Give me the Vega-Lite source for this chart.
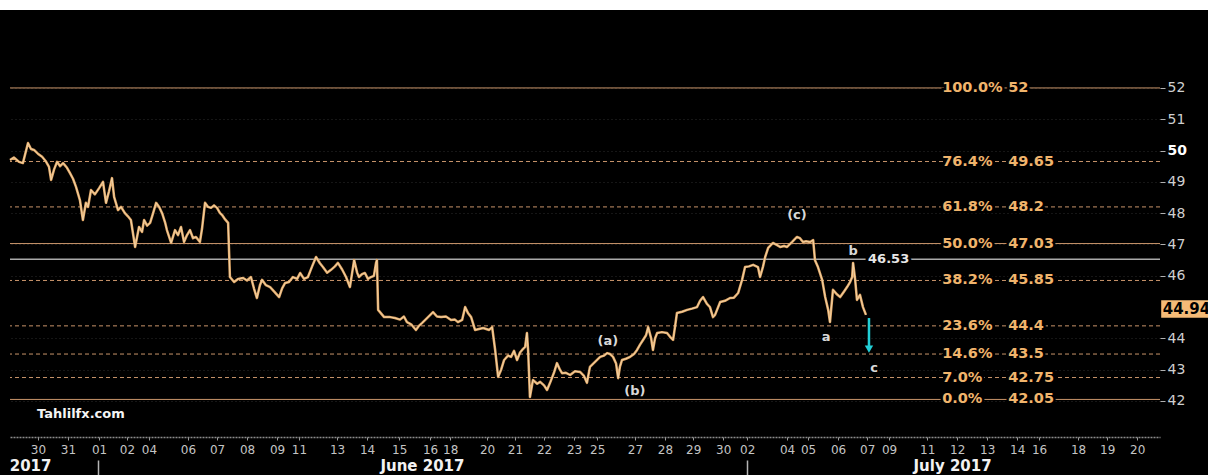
{
  "$schema": "https://vega.github.io/schema/vega-lite/v6.json",
  "width": 1150,
  "height": 427,
  "autosize": {"type": "none"},
  "padding": {"left": 10, "top": 10, "right": 48, "bottom": 38},
  "background": "#000000",
  "config": {"view": {"stroke": null}, "font": "DejaVu Sans"},
  "resolve": {"axis": {"x": "independent", "y": "independent"}},
  "datasets": {
    "price": [
      {"t":0.00,"v":49.70},{"t":0.13,"v":49.78},{"t":0.30,"v":49.64},{"t":0.43,"v":49.60},{"t":0.60,"v":50.24},{"t":0.70,"v":50.05},{"t":0.80,"v":50.02},{"t":0.93,"v":49.90},{"t":1.07,"v":49.80},{"t":1.20,"v":49.65},{"t":1.30,"v":49.48},{"t":1.37,"v":49.06},{"t":1.47,"v":49.40},{"t":1.57,"v":49.64},{"t":1.67,"v":49.50},{"t":1.77,"v":49.60},{"t":1.90,"v":49.45},{"t":2.00,"v":49.28},{"t":2.10,"v":49.10},{"t":2.20,"v":48.84},{"t":2.33,"v":48.42},{"t":2.43,"v":47.78},{"t":2.53,"v":48.33},{"t":2.60,"v":48.20},{"t":2.70,"v":48.74},{"t":2.83,"v":48.60},{"t":2.97,"v":48.80},{"t":3.10,"v":49.00},{"t":3.20,"v":48.33},{"t":3.30,"v":48.70},{"t":3.40,"v":49.12},{"t":3.47,"v":48.52},{"t":3.60,"v":48.10},{"t":3.70,"v":48.20},{"t":3.83,"v":48.00},{"t":3.93,"v":47.90},{"t":4.03,"v":47.78},{"t":4.17,"v":46.92},{"t":4.30,"v":47.56},{"t":4.40,"v":47.40},{"t":4.47,"v":47.78},{"t":4.57,"v":47.60},{"t":4.67,"v":47.69},{"t":4.77,"v":48.00},{"t":4.87,"v":48.33},{"t":4.97,"v":48.20},{"t":5.07,"v":48.00},{"t":5.17,"v":47.70},{"t":5.23,"v":47.46},{"t":5.37,"v":47.05},{"t":5.50,"v":47.46},{"t":5.60,"v":47.30},{"t":5.70,"v":47.56},{"t":5.80,"v":47.08},{"t":5.90,"v":47.30},{"t":6.00,"v":47.46},{"t":6.10,"v":47.20},{"t":6.20,"v":47.24},{"t":6.33,"v":47.08},{"t":6.40,"v":47.50},{"t":6.50,"v":48.33},{"t":6.60,"v":48.20},{"t":6.70,"v":48.17},{"t":6.80,"v":48.25},{"t":6.90,"v":48.17},{"t":7.00,"v":48.00},{"t":7.07,"v":47.94},{"t":7.17,"v":47.80},{"t":7.27,"v":47.69},{"t":7.33,"v":45.96},{"t":7.47,"v":45.80},{"t":7.60,"v":45.90},{"t":7.77,"v":45.93},{"t":7.90,"v":45.85},{"t":8.03,"v":45.96},{"t":8.13,"v":45.60},{"t":8.23,"v":45.29},{"t":8.33,"v":45.70},{"t":8.40,"v":45.87},{"t":8.53,"v":45.70},{"t":8.67,"v":45.64},{"t":8.80,"v":45.50},{"t":8.97,"v":45.32},{"t":9.07,"v":45.60},{"t":9.17,"v":45.77},{"t":9.30,"v":45.80},{"t":9.43,"v":45.96},{"t":9.57,"v":45.90},{"t":9.67,"v":46.09},{"t":9.80,"v":45.90},{"t":9.93,"v":45.96},{"t":10.07,"v":46.30},{"t":10.20,"v":46.60},{"t":10.33,"v":46.40},{"t":10.43,"v":46.28},{"t":10.57,"v":46.10},{"t":10.70,"v":46.19},{"t":10.83,"v":46.30},{"t":10.93,"v":46.41},{"t":11.07,"v":46.20},{"t":11.20,"v":45.96},{"t":11.33,"v":45.64},{"t":11.47,"v":46.50},{"t":11.57,"v":46.10},{"t":11.63,"v":45.96},{"t":11.73,"v":46.05},{"t":11.83,"v":46.09},{"t":11.93,"v":45.90},{"t":12.03,"v":45.96},{"t":12.13,"v":46.00},{"t":12.20,"v":46.41},{"t":12.23,"v":46.50},{"t":12.27,"v":44.91},{"t":12.47,"v":44.68},{"t":12.67,"v":44.68},{"t":12.83,"v":44.65},{"t":13.00,"v":44.60},{"t":13.13,"v":44.70},{"t":13.23,"v":44.52},{"t":13.37,"v":44.45},{"t":13.53,"v":44.27},{"t":13.63,"v":44.40},{"t":13.73,"v":44.49},{"t":13.90,"v":44.65},{"t":14.10,"v":44.84},{"t":14.23,"v":44.70},{"t":14.37,"v":44.68},{"t":14.53,"v":44.70},{"t":14.70,"v":44.59},{"t":14.83,"v":44.60},{"t":14.93,"v":44.52},{"t":15.07,"v":44.59},{"t":15.17,"v":45.00},{"t":15.27,"v":44.80},{"t":15.37,"v":44.68},{"t":15.50,"v":44.27},{"t":15.63,"v":44.30},{"t":15.77,"v":44.33},{"t":15.97,"v":44.27},{"t":16.07,"v":44.36},{"t":16.17,"v":43.63},{"t":16.27,"v":42.77},{"t":16.37,"v":43.00},{"t":16.47,"v":43.31},{"t":16.60,"v":43.45},{"t":16.70,"v":43.41},{"t":16.80,"v":43.60},{"t":16.90,"v":43.31},{"t":17.00,"v":43.55},{"t":17.07,"v":43.63},{"t":17.17,"v":43.73},{"t":17.23,"v":44.17},{"t":17.27,"v":43.60},{"t":17.33,"v":42.13},{"t":17.43,"v":42.67},{"t":17.57,"v":42.55},{"t":17.67,"v":42.61},{"t":17.80,"v":42.50},{"t":17.90,"v":42.35},{"t":18.00,"v":42.58},{"t":18.13,"v":42.90},{"t":18.23,"v":43.21},{"t":18.33,"v":43.00},{"t":18.40,"v":42.89},{"t":18.53,"v":42.90},{"t":18.67,"v":42.83},{"t":18.83,"v":42.95},{"t":19.00,"v":42.93},{"t":19.13,"v":42.80},{"t":19.23,"v":42.58},{"t":19.33,"v":43.09},{"t":19.50,"v":43.25},{"t":19.67,"v":43.41},{"t":19.80,"v":43.45},{"t":19.90,"v":43.53},{"t":20.00,"v":43.50},{"t":20.10,"v":43.41},{"t":20.20,"v":43.20},{"t":20.27,"v":42.73},{"t":20.33,"v":43.10},{"t":20.40,"v":43.31},{"t":20.53,"v":43.35},{"t":20.67,"v":43.41},{"t":20.80,"v":43.50},{"t":20.90,"v":43.63},{"t":21.00,"v":43.80},{"t":21.10,"v":43.95},{"t":21.20,"v":44.10},{"t":21.27,"v":44.36},{"t":21.37,"v":44.00},{"t":21.43,"v":43.63},{"t":21.50,"v":44.00},{"t":21.57,"v":44.17},{"t":21.73,"v":44.20},{"t":21.90,"v":44.17},{"t":22.00,"v":44.05},{"t":22.10,"v":43.95},{"t":22.17,"v":44.40},{"t":22.23,"v":44.81},{"t":22.40,"v":44.85},{"t":22.57,"v":44.91},{"t":22.73,"v":44.95},{"t":22.90,"v":45.00},{"t":23.00,"v":45.20},{"t":23.10,"v":45.32},{"t":23.23,"v":45.10},{"t":23.33,"v":45.00},{"t":23.43,"v":44.68},{"t":23.50,"v":44.75},{"t":23.67,"v":45.16},{"t":23.83,"v":45.20},{"t":24.00,"v":45.29},{"t":24.13,"v":45.30},{"t":24.27,"v":45.45},{"t":24.40,"v":45.87},{"t":24.50,"v":46.28},{"t":24.63,"v":46.30},{"t":24.77,"v":46.35},{"t":24.93,"v":46.28},{"t":25.00,"v":45.96},{"t":25.10,"v":46.30},{"t":25.17,"v":46.60},{"t":25.27,"v":46.89},{"t":25.43,"v":47.05},{"t":25.57,"v":46.98},{"t":25.67,"v":46.92},{"t":25.80,"v":46.95},{"t":25.90,"v":46.92},{"t":26.07,"v":47.08},{"t":26.23,"v":47.24},{"t":26.33,"v":47.20},{"t":26.43,"v":47.08},{"t":26.53,"v":47.10},{"t":26.67,"v":47.08},{"t":26.77,"v":47.14},{"t":26.83,"v":46.50},{"t":26.93,"v":46.28},{"t":27.07,"v":45.87},{"t":27.17,"v":45.32},{"t":27.27,"v":44.91},{"t":27.33,"v":44.52},{"t":27.43,"v":45.55},{"t":27.57,"v":45.40},{"t":27.67,"v":45.32},{"t":27.80,"v":45.50},{"t":27.90,"v":45.64},{"t":28.00,"v":45.80},{"t":28.07,"v":45.96},{"t":28.10,"v":46.41},{"t":28.17,"v":45.87},{"t":28.23,"v":45.23},{"t":28.33,"v":45.39},{"t":28.43,"v":45.00},{"t":28.53,"v":44.75}
    ],
    "levels": [
      {"pct":"100.0%","value":52},{"pct":"76.4%","value":49.65},{"pct":"61.8%","value":48.2},{"pct":"50.0%","value":47.03},{"pct":"38.2%","value":45.85},{"pct":"23.6%","value":44.4},{"pct":"14.6%","value":43.5},{"pct":"7.0%","value":42.75},{"pct":"0.0%","value":42.05}
    ],
    "notes": [
      {"label":"(a)","t":19.93,"v":43.92},{"label":"(b)","t":20.83,"v":42.33},{"label":"(c)","t":26.23,"v":47.94},{"label":"a","t":27.2,"v":44.03},{"label":"b","t":28.1,"v":46.78},{"label":"c","t":28.8,"v":43.04}
    ],
    "ref": [{"level": 46.53}],
    "last": [{"price": 44.94}],
    "brand": [{"name": "Tahlilfx.com"}]
  },
  "layer": [
    {
      "data": {"values": [{"edge": "top"}]},
      "mark": {"type": "rect", "color": "#ffffff"},
      "encoding": {
        "x": {"datum": -0.5, "type": "quantitative", "scale": {"domain": [0, 38.33], "nice": false, "zero": false}, "axis": null},
        "x2": {"datum": 41},
        "y": {"datum": 54.49, "type": "quantitative", "scale": {"domain": [40.85, 54.49], "nice": false, "zero": false}, "axis": null},
        "y2": {"datum": 54.85}
      }
    },
    {
      "data": {"name": "levels"},
      "mark": {"type": "rule", "color": "#c8946a", "strokeWidth": 1},
      "encoding": {
        "y": {"field": "value", "type": "quantitative", "scale": {"domain": [40.85, 54.49], "nice": false, "zero": false}, "axis": null},
        "strokeDash": {"condition": {"test": "datum.pct == '100.0%' || datum.pct == '50.0%' || datum.pct == '0.0%'", "value": [1, 0]}, "value": [4, 3]}
      }
    },
    {
      "data": {"name": "ref"},
      "mark": {"type": "rule", "color": "#a9a9a9", "strokeWidth": 1.5},
      "encoding": {
        "y": {"field": "level", "type": "quantitative", "scale": {"domain": [40.85, 54.49], "nice": false, "zero": false}, "axis": null}
      }
    },
    {
      "data": {"name": "price"},
      "mark": {"type": "line", "color": "#e0a767", "strokeWidth": 2.5, "strokeJoin": "round"},
      "encoding": {
        "x": {"field": "t", "type": "quantitative", "scale": {"domain": [0, 38.33], "nice": false, "zero": false},
          "axis": {"orient": "bottom", "title": null, "grid": false,
            "values": [0.93,1.93,2.97,3.9,4.63,5.93,6.9,7.9,8.9,9.63,10.9,11.9,12.97,14.0,14.67,15.9,16.83,17.8,18.8,19.57,20.83,21.83,22.77,23.77,24.57,25.9,26.6,27.6,28.57,29.3,30.57,31.57,32.57,33.57,34.3,35.6,36.57,37.57],
            "labelExpr": "['30','31','01','02','04','06','07','08','09','11','13','14','15','16','18','20','21','22','23','25','27','28','29','30','02','04','05','06','07','09','11','12','13','14','16','18','19','20'][indexof([0.93,1.93,2.97,3.9,4.63,5.93,6.9,7.9,8.9,9.63,10.9,11.9,12.97,14.0,14.67,15.9,16.83,17.8,18.8,19.57,20.83,21.83,22.77,23.77,24.57,25.9,26.6,27.6,28.57,29.3,30.57,31.57,32.57,33.57,34.3,35.6,36.57,37.57], datum.value)]",
            "labelOverlap": false, "labelFlush": false, "labelBound": false,
            "labelFont": "DejaVu Sans", "labelFontSize": 12, "labelColor": "#c4c4c4", "labelPadding": 4,
            "domainColor": "#8c8c8c", "domainDash": [2, 1], "domainWidth": 1.5,
            "tickColor": "#9a9a9a", "tickSize": 3, "tickWidth": 1}},
        "y": {"field": "v", "type": "quantitative", "scale": {"domain": [40.85, 54.49], "nice": false, "zero": false},
          "axis": {"orient": "right", "title": null, "values": [42,43,44,46,47,48,49,50,51,52], "format": "d",
            "domain": false, "tickColor": "#b0b0b0", "tickSize": 5, "labelPadding": 2,
            "labelFont": "DejaVu Sans", "labelFontSize": 14,
            "labelColor": {"condition": {"test": "datum.value == 50", "value": "#ffffff"}, "value": "#cfcfcf"},
            "labelFontWeight": {"condition": {"test": "datum.value == 50", "value": "bold"}, "value": "normal"},
            "grid": true, "gridColor": "#2c2c2c", "gridDash": [1, 3], "gridWidth": 1}}
      }
    },
    {
      "data": {"name": "price"},
      "mark": {"type": "line", "color": "#f7dcb2", "strokeWidth": 0.8, "strokeJoin": "round"},
      "encoding": {
        "x": {"field": "t", "type": "quantitative", "scale": {"domain": [0, 38.33], "nice": false, "zero": false}, "axis": null},
        "y": {"field": "v", "type": "quantitative", "scale": {"domain": [40.85, 54.49], "nice": false, "zero": false}, "axis": null}
      }
    },
    {
      "data": {"name": "levels"},
      "mark": {"type": "text", "align": "left", "baseline": "middle", "font": "DejaVu Sans", "fontWeight": "bold", "fontSize": 14.5, "fill": "#000000", "stroke": "#000000", "strokeWidth": 5},
      "encoding": {
        "x": {"datum": 31.07, "type": "quantitative", "scale": {"domain": [0, 38.33], "nice": false, "zero": false}, "axis": null},
        "y": {"field": "value", "type": "quantitative", "scale": {"domain": [40.85, 54.49], "nice": false, "zero": false}, "axis": null},
        "text": {"field": "pct", "type": "nominal"}
      }
    },
    {
      "data": {"name": "levels"},
      "mark": {"type": "text", "align": "left", "baseline": "middle", "font": "DejaVu Sans", "fontWeight": "bold", "fontSize": 14.5, "fill": "#000000", "stroke": "#000000", "strokeWidth": 5},
      "encoding": {
        "x": {"datum": 33.27, "type": "quantitative", "scale": {"domain": [0, 38.33], "nice": false, "zero": false}, "axis": null},
        "y": {"field": "value", "type": "quantitative", "scale": {"domain": [40.85, 54.49], "nice": false, "zero": false}, "axis": null},
        "text": {"field": "value", "type": "nominal"}
      }
    },
    {
      "data": {"name": "levels"},
      "mark": {"type": "text", "align": "left", "baseline": "middle", "font": "DejaVu Sans", "fontWeight": "bold", "fontSize": 14.5, "color": "#f0b46c"},
      "encoding": {
        "x": {"datum": 31.07, "type": "quantitative", "scale": {"domain": [0, 38.33], "nice": false, "zero": false}, "axis": null},
        "y": {"field": "value", "type": "quantitative", "scale": {"domain": [40.85, 54.49], "nice": false, "zero": false}, "axis": null},
        "text": {"field": "pct", "type": "nominal"}
      }
    },
    {
      "data": {"name": "levels"},
      "mark": {"type": "text", "align": "left", "baseline": "middle", "font": "DejaVu Sans", "fontWeight": "bold", "fontSize": 14.5, "color": "#f0b46c"},
      "encoding": {
        "x": {"datum": 33.27, "type": "quantitative", "scale": {"domain": [0, 38.33], "nice": false, "zero": false}, "axis": null},
        "y": {"field": "value", "type": "quantitative", "scale": {"domain": [40.85, 54.49], "nice": false, "zero": false}, "axis": null},
        "text": {"field": "value", "type": "nominal"}
      }
    },
    {
      "data": {"name": "ref"},
      "mark": {"type": "text", "align": "left", "baseline": "middle", "font": "DejaVu Sans", "fontWeight": "bold", "fontSize": 13, "fill": "#000000", "stroke": "#000000", "strokeWidth": 6},
      "encoding": {
        "x": {"datum": 28.6, "type": "quantitative", "scale": {"domain": [0, 38.33], "nice": false, "zero": false}, "axis": null},
        "y": {"field": "level", "type": "quantitative", "scale": {"domain": [40.85, 54.49], "nice": false, "zero": false}, "axis": null},
        "text": {"field": "level", "type": "nominal"}
      }
    },
    {
      "data": {"name": "ref"},
      "mark": {"type": "text", "align": "left", "baseline": "middle", "font": "DejaVu Sans", "fontWeight": "bold", "fontSize": 13, "color": "#e6e6e6"},
      "encoding": {
        "x": {"datum": 28.6, "type": "quantitative", "scale": {"domain": [0, 38.33], "nice": false, "zero": false}, "axis": null},
        "y": {"field": "level", "type": "quantitative", "scale": {"domain": [40.85, 54.49], "nice": false, "zero": false}, "axis": null},
        "text": {"field": "level", "type": "nominal"}
      }
    },
    {
      "data": {"name": "notes"},
      "mark": {"type": "text", "align": "center", "baseline": "middle", "font": "DejaVu Sans", "fontWeight": "bold", "fontSize": 13, "color": "#d8d8d8"},
      "encoding": {
        "x": {"field": "t", "type": "quantitative", "scale": {"domain": [0, 38.33], "nice": false, "zero": false},
          "axis": {"orient": "bottom", "offset": 19, "title": null, "grid": false, "ticks": false, "domain": false,
            "values": [0.67, 13.73, 31.4],
            "labelExpr": "datum.value < 5 ? '2017' : (datum.value < 20 ? 'June 2017' : 'July 2017')",
            "labelOverlap": false, "labelFlush": false, "labelBound": false,
            "labelFont": "DejaVu Sans", "labelFontWeight": "bold", "labelFontSize": 15, "labelColor": "#f2f2f2", "labelPadding": 2}},
        "y": {"field": "v", "type": "quantitative", "scale": {"domain": [40.85, 54.49], "nice": false, "zero": false}, "axis": null},
        "text": {"field": "label", "type": "nominal"}
      }
    },
    {
      "data": {"name": "brand"},
      "mark": {"type": "text", "align": "left", "baseline": "middle", "font": "DejaVu Sans", "fontWeight": "bold", "fontSize": 13, "color": "#f4f4f4"},
      "encoding": {
        "x": {"datum": 0.9, "type": "quantitative", "scale": {"domain": [0, 38.33], "nice": false, "zero": false}, "axis": null},
        "y": {"datum": 41.58, "type": "quantitative", "scale": {"domain": [40.85, 54.49], "nice": false, "zero": false}, "axis": null},
        "text": {"field": "name", "type": "nominal"}
      }
    },
    {
      "data": {"values": [{"from": 44.65, "to": 43.72}]},
      "mark": {"type": "rule", "color": "#22cfd6", "strokeWidth": 2.5},
      "encoding": {
        "x": {"datum": 28.63, "type": "quantitative", "scale": {"domain": [0, 38.33], "nice": false, "zero": false},
          "axis": {"orient": "bottom", "offset": 23, "title": null, "grid": false, "domain": false, "labels": false,
            "values": [2.93, 24.57], "tickSize": 15, "tickColor": "#b4b4b4", "tickWidth": 1.5}},
        "y": {"field": "from", "type": "quantitative", "scale": {"domain": [40.85, 54.49], "nice": false, "zero": false}, "axis": null},
        "y2": {"field": "to"}
      }
    },
    {
      "data": {"values": [{"head": 43.66}]},
      "mark": {"type": "point", "shape": "triangle-down", "filled": true, "color": "#22cfd6", "size": 70, "opacity": 1},
      "encoding": {
        "x": {"datum": 28.63, "type": "quantitative", "scale": {"domain": [0, 38.33], "nice": false, "zero": false}, "axis": null},
        "y": {"field": "head", "type": "quantitative", "scale": {"domain": [40.85, 54.49], "nice": false, "zero": false}, "axis": null}
      }
    },
    {
      "data": {"name": "last"},
      "mark": {"type": "rect", "color": "#f5bb77"},
      "encoding": {
        "x": {"datum": 38.37, "type": "quantitative", "scale": {"domain": [0, 38.33], "nice": false, "zero": false}, "axis": null},
        "x2": {"datum": 40.3},
        "y": {"datum": 45.22, "type": "quantitative", "scale": {"domain": [40.85, 54.49], "nice": false, "zero": false}, "axis": null},
        "y2": {"datum": 44.66}
      }
    },
    {
      "data": {"name": "last"},
      "mark": {"type": "text", "align": "left", "baseline": "middle", "font": "DejaVu Sans", "fontWeight": "bold", "fontSize": 15, "color": "#000000"},
      "encoding": {
        "x": {"datum": 38.42, "type": "quantitative", "scale": {"domain": [0, 38.33], "nice": false, "zero": false}, "axis": null},
        "y": {"field": "price", "type": "quantitative", "scale": {"domain": [40.85, 54.49], "nice": false, "zero": false}, "axis": null},
        "text": {"field": "price", "type": "nominal"}
      }
    }
  ]
}
